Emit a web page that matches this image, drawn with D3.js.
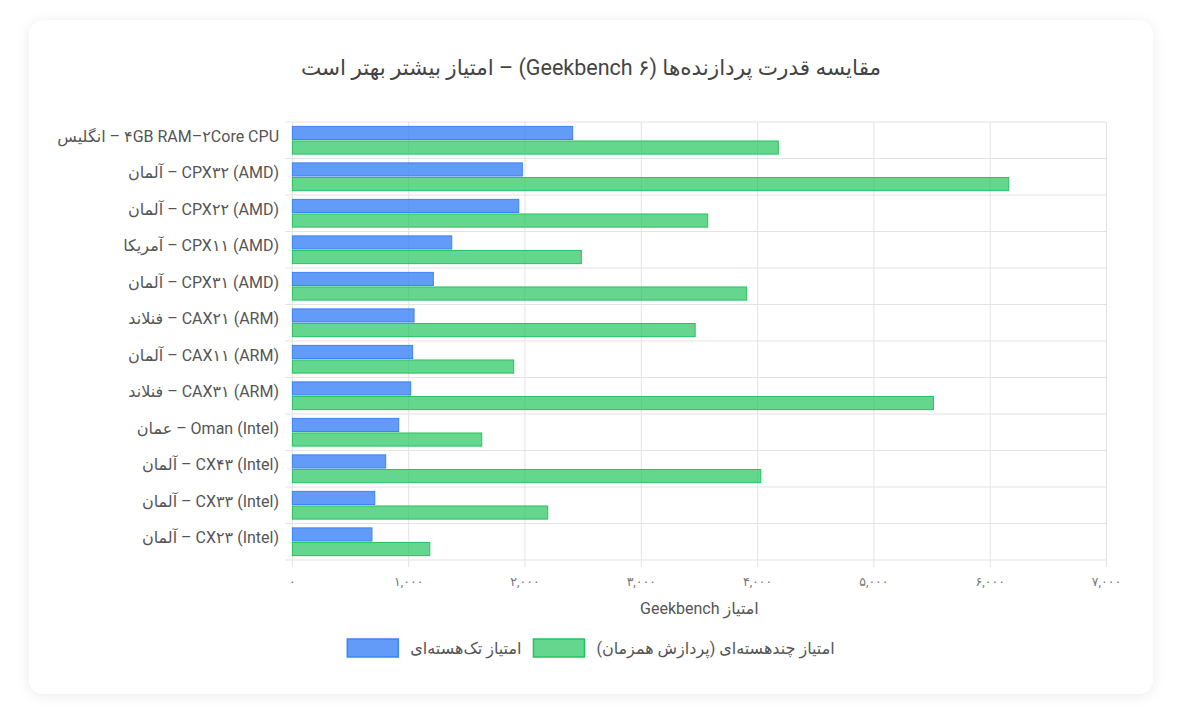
<!DOCTYPE html>
<html lang="fa">
<head>
<meta charset="utf-8">
<script src="https://cdn.jsdelivr.net/npm/d3@7"></script>
<style>
  body { margin: 0; background: #ffffff; font-family: Roboto, "DejaVu Sans", sans-serif; }
  #card {
    position: absolute; left: 29px; top: 20px; width: 1124px; height: 674px;
    background: #fff; border-radius: 14px;
    box-shadow: 0 2px 14px rgba(0,0,0,0.08);
  }
  svg { position: absolute; left: 0; top: 0; }
</style>
</head>
<body>
<div id="card"></div>
<div id="chart"></div>
<script>
/* DATA */
const title = "مقایسه قدرت پردازنده‌ها (Geekbench ۶) – امتیاز بیشتر بهتر است";

// labels written in display order (left to right)
const categories = [
  "انگلیس – \u200E۴GB RAM–۲Core CPU",
  "آلمان – CPX۳۲ (AMD)",
  "آلمان – CPX۲۲ (AMD)",
  "آمریکا – CPX۱۱ (AMD)",
  "آلمان – CPX۳۱ (AMD)",
  "فنلاند – CAX۲۱ (ARM)",
  "آلمان – CAX۱۱ (ARM)",
  "فنلاند – CAX۳۱ (ARM)",
  "عمان – Oman (Intel)",
  "آلمان – CX۴۳ (Intel)",
  "آلمان – CX۳۳ (Intel)",
  "آلمان – CX۲۳ (Intel)"
];

const singleCore = [2410, 1977, 1946, 1370, 1212, 1046, 1034, 1017, 914, 802, 708, 684];
const multiCore  = [4178, 6159, 3571, 2484, 3906, 3463, 1903, 5512, 1628, 4027, 2195, 1181];

const seriesNames = ["امتیاز تک‌هسته‌ای", "امتیاز چندهسته‌ای (پردازش همزمان)"];

const xTicks = [0, 1000, 2000, 3000, 4000, 5000, 6000, 7000];
const xTickLabels = ["۰", "۱,۰۰۰", "۲,۰۰۰", "۳,۰۰۰", "۴,۰۰۰", "۵,۰۰۰", "۶,۰۰۰", "۷,۰۰۰"];
const xTitle = "Geekbench امتیاز";

/* LAYOUT */
const W = 1180, H = 719;
const plot = {left: 292.4, right: 1106.5, top: 122, bottom: 560};
const colors = {
  single: {fill: "rgb(59,130,246)", stroke: "rgb(59,130,246)"},
  multi:  {fill: "rgb(34,197,94)",  stroke: "rgb(34,197,94)"}
};
const gridColor = "#e3e3e3";
const textColor = "#555";

const data = categories.map((c, i) => ({cat: c, single: singleCore[i], multi: multiCore[i]}));

const svg = d3.select("#chart").append("svg")
  .attr("width", W).attr("height", H);

// scales
const xScale = d3.scaleLinear().domain([0, 7000]).range([plot.left, plot.right]);
const yScale = d3.scaleBand().domain(categories).range([plot.top, plot.bottom]);
const bw = yScale.bandwidth();
const sub = d3.scaleBand().domain(["single", "multi"])
  .range([bw * 0.1, bw * 0.9]).paddingInner(0.1).paddingOuter(0.05);

// title
svg.append("text")
  .attr("x", 591).attr("y", 75)
  .attr("text-anchor", "middle")
  .attr("direction", "rtl")
  .style("font-size", "21.5px")
  .attr("fill", "#444")
  .text(title);

// vertical grid
svg.append("g")
  .selectAll("line")
  .data(xTicks)
  .join("line")
  .attr("x1", d => xScale(d)).attr("x2", d => xScale(d))
  .attr("y1", plot.top).attr("y2", plot.bottom + 7)
  .attr("stroke", gridColor).attr("stroke-width", 1);

// horizontal grid at band edges
const edges = categories.map(c => yScale(c)).concat([plot.bottom]);
svg.append("g")
  .selectAll("line")
  .data(edges)
  .join("line")
  .attr("x1", plot.left - 7).attr("x2", plot.right)
  .attr("y1", d => d).attr("y2", d => d)
  .attr("stroke", gridColor).attr("stroke-width", 1);

// x tick labels
svg.append("g")
  .selectAll("text")
  .data(xTicks)
  .join("text")
  .attr("x", d => xScale(d))
  .attr("y", 586)
  .attr("text-anchor", "middle")
  .style("font-size", "12.5px")
  .attr("fill", "#777")
  .text((d, i) => xTickLabels[i]);

// x title
svg.append("text")
  .attr("x", (plot.left + plot.right) / 2)
  .attr("y", 614)
  .attr("text-anchor", "middle")
  .style("font-size", "16px")
  .attr("fill", textColor)
  .text(xTitle);

// y labels
svg.append("g")
  .selectAll("text")
  .data(categories)
  .join("text")
  .attr("x", 279)
  .attr("y", d => yScale(d) + bw / 2 - 4)
  .attr("dy", "0.35em")
  .attr("text-anchor", "end")
  .style("font-size", "16px")
  .attr("fill", textColor)
  .text(d => d);

// bars
const rows = svg.append("g")
  .selectAll("g")
  .data(data)
  .join("g")
  .attr("transform", d => `translate(0,${yScale(d.cat)})`);

["single", "multi"].forEach(key => {
  rows.append("rect")
    .attr("x", xScale(0))
    .attr("y", sub(key))
    .attr("width", d => xScale(d[key]) - xScale(0))
    .attr("height", sub.bandwidth())
    .attr("fill", colors[key].fill)
    .attr("fill-opacity", key === "single" ? 0.8 : 0.7)
    .attr("stroke", colors[key].stroke)
    .attr("stroke-width", 1);
});

// legend
const legend = svg.append("g");
const boxW = 51, boxH = 18;
const items = [
  {name: seriesNames[0], key: "single"},
  {name: seriesNames[1], key: "multi"}
];
const legendItems = legend.selectAll("g").data(items).join("g");
legendItems.append("rect")
  .attr("width", boxW).attr("height", boxH)
  .attr("fill", d => colors[d.key].fill)
  .attr("fill-opacity", d => d.key === "single" ? 0.8 : 0.7)
  .attr("stroke", d => colors[d.key].stroke)
  .attr("stroke-width", 1.5);
legendItems.append("text")
  .attr("x", boxW + 12)
  .attr("y", boxH / 2)
  .attr("dy", "0.35em")
  .style("font-size", "16px")
  .attr("fill", textColor)
  .text(d => d.name);

let widths = [];
legendItems.each(function() {
  widths.push(boxW + 12 + d3.select(this).select("text").node().getComputedTextLength());
});
const gap = 12;
const total = d3.sum(widths) + gap * (widths.length - 1);
let cx = 591 - total / 2;
legendItems.attr("transform", (d, i) => {
  const t = `translate(${cx},639)`;
  cx += widths[i] + gap;
  return t;
});
</script>
</body>
</html>
